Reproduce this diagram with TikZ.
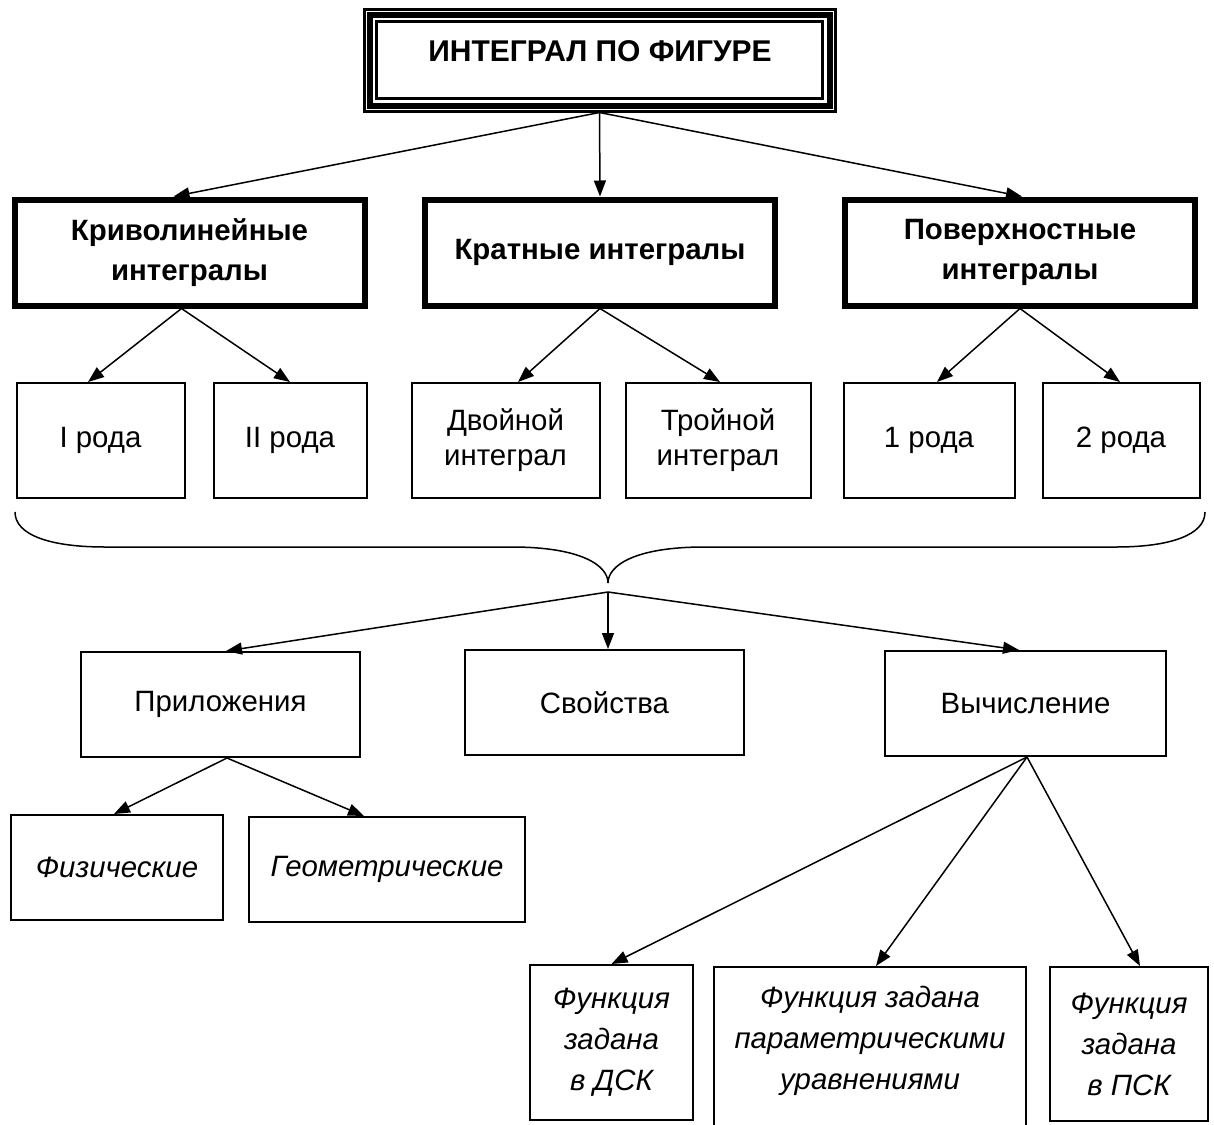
\documentclass[tikz,border=0pt]{standalone}
\usepackage{fontspec}
\setmainfont{Liberation Sans}
\usetikzlibrary{arrows.meta,calc}
\newcommand\myfs{\fontsize{14.7pt}{20pt}\selectfont}
\begin{document}
\begin{tikzpicture}[x=0.5pt,y=-0.5pt,
  every node/.style={font=\myfs},
  tbox/.style={draw, line width=1pt, inner sep=0pt, align=center},
  kbox/.style={draw, line width=3pt, inner sep=0pt, align=center, font=\myfs\bfseries},
  itx/.style={align=center, font=\fontsize{14.7pt}{20.5pt}\selectfont\itshape},
  arr/.style={-{Triangle[length=8pt,width=6pt]}, line width=0.75pt}]
\clip (0,0) rectangle (1214,1124);
\fill[white] (0,0) rectangle (1214,1124);

% title with triple border
\node[draw, line width=1.5pt, inner sep=0pt, minimum width=235.5pt, minimum height=51pt] (title) at (599.5,60) {};
\draw[line width=3pt] ($(title.north west)+(7,7)$) rectangle ($(title.south east)+(-7,-7)$);
\draw[line width=1.25pt] ($(title.north west)+(14,14)$) rectangle ($(title.south east)+(-14,-14)$);
\node[font=\fontsize{15pt}{20pt}\selectfont\bfseries] (titletext) at (600,51) {ИНТЕГРАЛ ПО ФИГУРЕ};

% level 2
\node[kbox, minimum width=175pt, minimum height=53pt] (krv) at (189.5,252.5) {Криволинейные\\интегралы};
\node[kbox, minimum width=175pt, minimum height=53pt] (krt) at (600,252.5) {Кратные интегралы};
\node[kbox, minimum width=175pt, minimum height=53pt] (pov) at (1020,252.5) {Поверхностные\\интегралы};

\draw[arr] (title.south) -- ($(krv.north)+(-16,0)$);
\draw[arr] (title.south) -- (krt.north);
\draw[arr] (title.south) -- ($(pov.north)+(2,0)$);

% level 3
\node[tbox, minimum width=84pt, minimum height=57.5pt] (r1) at (100.5,440.5) {I рода};
\node[tbox, minimum width=76.5pt, minimum height=57.5pt] (r2) at (290,440.5) {II рода};
\node[tbox, minimum width=94pt, minimum height=57.5pt, font=\fontsize{14.7pt}{17.5pt}\selectfont] (dv) at (505.5,440.5) {Двойной\\интеграл};
\node[tbox, minimum width=92.5pt, minimum height=57.5pt, font=\fontsize{14.7pt}{17.5pt}\selectfont] (tr) at (718,440.5) {Тройной\\интеграл};
\node[tbox, minimum width=85.5pt, minimum height=57.5pt] (p1) at (929,440.5) {1 рода};
\node[tbox, minimum width=78.5pt, minimum height=57.5pt] (p2) at (1121,440.5) {2 рода};

\coordinate (krvs) at ($(krv.south)+(-8,0)$);
\draw[arr] (krvs) -- ($(r1.north)+(-12.5,0)$);
\draw[arr] (krvs) -- (r2.north);
\draw[arr] (krt.south) -- ($(dv.north)+(12.5,0)$);
\draw[arr] (krt.south) -- ($(tr.north)+(2,0)$);
\draw[arr] (pov.south) -- ($(p1.north)+(8,0)$);
\draw[arr] (pov.south) -- ($(p2.north)+(-1,0)$);

% brace
\draw[line width=0.75pt] (15,512) .. controls (15,535) and (50,547) .. (105,547)
  -- (512,547) .. controls (580,547) and (608,565) .. (608,583)
  .. controls (608,565) and (636,547) .. (704,547)
  -- (1116,547) .. controls (1170,547) and (1205,535) .. (1205,512);

\coordinate (apex) at (608,592);

% level 4
\node[tbox, minimum width=139.5pt, minimum height=52.5pt] (pril) at (220.5,704.5) {Приложения};
\node[tbox, minimum width=139.5pt, minimum height=52.5pt] (svo) at (604.5,702.5) {Свойства};
\node[tbox, minimum width=140.5pt, minimum height=52.5pt] (vych) at (1025.5,703.5) {Вычисление};

\draw[arr] (apex) -- ($(pril.north)+(5.5,0)$);
\draw[arr] (apex) -- ($(svo.north)+(3.5,0)$);
\draw[arr] (apex) -- ($(vych.north)+(-6.5,0)$);

% level 5 left
\node[tbox, itx, minimum width=106pt, minimum height=52.5pt] (fiz) at (117,867.5) {Физические};
\node[tbox, itx, minimum width=138pt, minimum height=52.5pt] (geo) at (387,869.5) {Геометрические};

\coordinate (prils) at ($(pril.south)+(6.5,0)$);
\draw[arr] (prils) -- ($(fiz.north)+(-3,0)$);
\draw[arr] (prils) -- ($(geo.north)+(-23,0)$);

% level 5 right
\node[tbox, itx, minimum width=81.5pt, minimum height=77.5pt] (dsk) at (611.5,1042.5) {Функция\\задана\\в ДСК};
\node[tbox, minimum width=156pt, minimum height=84pt] (par) at (870,1051) {};
\node[itx] (partext) at (870,1041) {Функция задана\\параметрическими\\уравнениями};
\node[tbox, itx, minimum width=79pt, minimum height=77pt] (psk) at (1129,1044) {Функция\\задана\\в ПСК};

\coordinate (vychs) at ($(vych.south)+(1.5,0)$);
\draw[arr] (vychs) -- (dsk.north);
\draw[arr] (vychs) -- ($(par.north)+(6,0)$);
\draw[arr] (vychs) -- ($(psk.north)+(11,0)$);
\end{tikzpicture}
\end{document}
